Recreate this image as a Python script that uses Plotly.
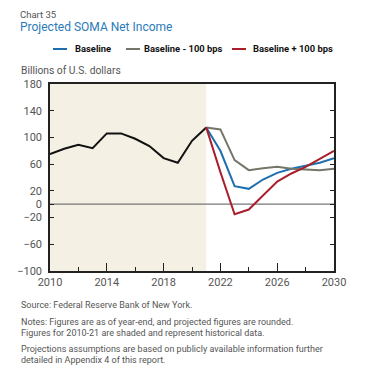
import plotly.graph_objects as go

# ---- data ----
hist_years = [2010, 2011, 2012, 2013, 2014, 2015, 2016, 2017, 2018, 2019, 2020, 2021]
hist_values = [75, 83, 89, 84, 106, 106, 98, 87, 69, 62, 95, 115]

proj_years = [2021, 2022, 2023, 2024, 2025, 2026, 2027, 2028, 2029, 2030]
baseline = [115, 80, 27, 23, 37, 47, 53, 57, 62, 69]
baseline_minus = [115, 112, 66, 51, 54, 56, 53, 52, 51, 53]
baseline_plus = [115, 48, -15, -8, 13, 34, 46, 56, 68, 80]

series_names = ["Baseline", "Baseline - 100 bps", "Baseline + 100 bps"]
series_colors = ["#1f6fae", "#74766a", "#a91f2c"]

y_ticks = [180, 140, 100, 60, 20, 0, -20, -60, -100]
x_ticks = [2010, 2014, 2018, 2022, 2026, 2030]
shade_range = [2010, 2021]

FONT = "Roboto"

# plot-area frame: x 50..334 px, y 84..271 px
W, H = 367, 377
ml, mr, mt, mb = 50, 33, 84, 106
pw, ph = W - ml - mr, H - mt - mb


def px(x):
    return (x - ml) / pw


def py(y):
    return (H - mb - y) / ph


fig = go.Figure()

fig.add_trace(go.Scatter(x=hist_years, y=hist_values, mode="lines",
                         line=dict(color="#111111", width=2), showlegend=False))
for name, vals, col in zip(series_names, [baseline, baseline_minus, baseline_plus], series_colors):
    fig.add_trace(go.Scatter(x=proj_years, y=vals, mode="lines", name=name,
                             line=dict(color=col, width=2), showlegend=False))

fig.update_layout(
    width=W, height=H,
    margin=dict(l=ml, r=mr, t=mt, b=mb),
    paper_bgcolor="white", plot_bgcolor="white",
    font=dict(family=FONT, size=11, color="#555555"),
)

# historical shading and zero line
fig.add_shape(type="rect", xref="x", yref="paper", x0=shade_range[0], x1=shade_range[1],
              y0=0, y1=1, fillcolor="#f4f0e3", line_width=0, layer="below")
fig.add_shape(type="line", xref="paper", yref="y", x0=0, x1=1, y0=0, y1=0,
              line=dict(color="#777777", width=1.3), layer="below")

# custom legend
legend_pos = [(53, 73), (126, 142), (232, 251)]
for (lx, tx), name, col in zip(legend_pos, series_names, series_colors):
    fig.add_shape(type="line", xref="paper", yref="paper",
                  x0=px(lx), x1=px(lx + 14), y0=py(49), y1=py(49),
                  line=dict(color=col, width=2))
    fig.add_annotation(text=name, xref="paper", yref="paper", x=px(tx), y=py(49),
                       xanchor="left", yanchor="middle", showarrow=False,
                       font=dict(family=FONT, size=9.4, color="#111111", weight="bold"))

texts = [
    ("Chart 35", 18, 14, 9.5, "#555555"),
    ("Projected SOMA Net Income", 18, 27, 12, "#2a7ab8"),
    ("Billions of U.S. dollars", 19, 71, 10.3, "#555555"),
    ("Source: Federal Reserve Bank of New York.", 19, 305, 9, "#555555"),
    ("Notes: Figures are as of year-end, and projected figures are rounded.", 19, 322, 9, "#555555"),
    ("Figures for 2010-21 are shaded and represent historical data.", 19, 333, 9, "#555555"),
    ("Projections assumptions are based on publicly available information further", 19, 349, 9, "#555555"),
    ("detailed in Appendix 4 of this report.", 19, 360, 9, "#555555"),
]
for t, x, y, s, c in texts:
    fig.add_annotation(text=t, xref="paper", yref="paper", x=px(x), y=py(y),
                       xanchor="left", yanchor="middle", showarrow=False,
                       font=dict(family=FONT, size=s, color=c))

fig.update_xaxes(range=[2010, 2030], tickvals=x_ticks, ticks="inside", ticklen=8,
                 tickcolor="#222222", tickwidth=1.2,
                 minor=dict(tickvals=[2012, 2016, 2020, 2024, 2028], ticks="inside",
                            ticklen=4, tickcolor="#222222", tickwidth=1.2),
                 showgrid=False, zeroline=False, showline=True, linecolor="#222222",
                 linewidth=1.5, mirror=True, tickfont=dict(size=11, color="#555555"))
fig.update_yaxes(range=[-100, 180], tickvals=y_ticks, ticks="inside", ticklen=4,
                 tickcolor="#222222", tickwidth=1.2, showgrid=False, zeroline=False,
                 showline=True, linecolor="#222222", linewidth=1.5, mirror="ticks",
                 tickfont=dict(size=11, color="#555555"), ticklabelstandoff=4)

fig.write_html("out.html", config={"displayModeBar": False},
               post_script="document.body.style.margin='0';")
